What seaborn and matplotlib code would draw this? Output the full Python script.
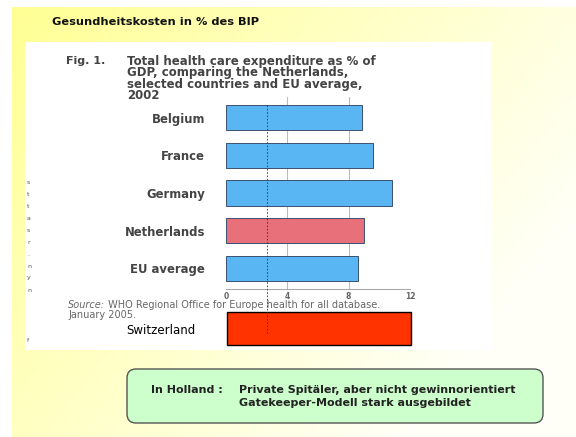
import numpy as np
import pandas as pd
import matplotlib
matplotlib.use('Agg')
import matplotlib.pyplot as plt
from matplotlib.patches import Rectangle, FancyBboxPatch
import seaborn as sns

# Data (% of GDP, 2002)
countries = ['Belgium', 'France', 'Germany', 'Netherlands', 'EU average']
spending = [8.9, 9.6, 10.8, 9.0, 8.6]
bar_colors = ['#5ab6f2', '#5ab6f2', '#5ab6f2', '#e8707b', '#5ab6f2']
x_ticks = [0, 4, 8, 12]
grid_at = [4, 8]
marker_line = 2.65

swiss_label = ['Switzerland']
swiss_value = [12.0]

slide_title = 'Gesundheitskosten in % des BIP'
fig_caption = ['Total health care expenditure as % of',
               'GDP, comparing the Netherlands,',
               'selected countries and EU average,',
               '2002']
margin_chars = ['s', 't', 't', 'a', 's', 'r', '.', 'n', 'y', 'n']

sns.set_style('white')
plt.rcParams['font.family'] = ['DejaVu Sans']

W, H = 576, 437
fig = plt.figure(figsize=(W / 100, H / 100), dpi=100)

# slide background in pixel coordinates
bg = fig.add_axes([0, 0, 1, 1])
bg.set_xlim(0, W)
bg.set_ylim(H, 0)
bg.axis('off')
gx, gy = np.meshgrid(np.linspace(0, 1, 200), np.linspace(0, 1, 160))
t = np.clip((gx * 1.0 + gy * 0.6) / 1.3, 0, 1)
top = np.array([1.0, 1.0, 0.58])
end = np.array([1.0, 1.0, 0.97])
grad = top[None, None, :] * (1 - t[..., None]) + end[None, None, :] * t[..., None]
bg.imshow(grad, extent=[12, W, H, 7], aspect='auto', zorder=0)
bg.add_patch(Rectangle((25, 42), 466, 308, facecolor='white', edgecolor='none', zorder=1))

bg.text(52, 22, slide_title, fontsize=8.2, fontweight='bold', color='#111',
        va='center', ha='left', zorder=2)
bg.text(66, 61, 'Fig. 1.', fontsize=8, fontweight='bold', color='#444',
        va='center', zorder=2)
for i, line in enumerate(fig_caption):
    bg.text(127, 61 + i * 11.6, line, fontsize=8.5, fontweight='bold', color='#444',
            va='center', zorder=2)

for i, ch in enumerate(margin_chars):
    bg.text(27, 182 + i * 12, ch, fontsize=4.5, color='#555', va='center', zorder=2)
bg.text(27, 340, 'f', fontsize=4.5, color='#555', va='center', zorder=2)

s1 = bg.text(68, 305.5, 'Source:', fontsize=7, style='italic', color='#666',
             va='center', zorder=2)
bg.annotate(' WHO Regional Office for Europe health for all database.', xy=(1, 0),
            xycoords=s1, va='bottom', fontsize=7, color='#666', zorder=2)
bg.text(68, 314.5, 'January 2005.', fontsize=7, color='#666', va='center', zorder=2)

bg.add_patch(FancyBboxPatch((127, 369), 416, 54, boxstyle='round,pad=0,rounding_size=9',
                            facecolor='#ccffcc', edgecolor='#555', linewidth=1, zorder=2))
bg.text(151, 390, 'In Holland :', fontsize=8, fontweight='bold', color='#222',
        va='center', zorder=3)
bg.text(239, 390, 'Private Spitäler, aber nicht gewinnorientiert', fontsize=8,
        fontweight='bold', color='#222', va='center', zorder=3)
bg.text(239, 403, 'Gatekeeper-Modell stark ausgebildet', fontsize=8,
        fontweight='bold', color='#222', va='center', zorder=3)

# Switzerland bar (added first so the dashed line sits on top)
ax_l, ax_r = 226, 410
sw = fig.add_axes([(ax_l + 1) / W, (H - 345) / H, (ax_r - ax_l) / W, 33 / H])
sw.patch.set_alpha(0)
sns.barplot(x=swiss_value, y=swiss_label, color='#ff3300', edgecolor='black',
            linewidth=1, width=1.0, orient='h', saturation=1, ax=sw)
for p in sw.patches:
    p.set_clip_on(False)
sw.set_xlim(0, 12)
sw.set_ylim(0.5, -0.5)
sw.set_xticks([])
sw.set_xlabel('')
sw.set_ylabel('')
sns.despine(ax=sw, left=True, bottom=True)
sw.tick_params(axis='y', length=0, pad=23, labelsize=8.5, labelcolor='black')

# main chart
ax = fig.add_axes([ax_l / W, (H - 289) / H, (ax_r - ax_l) / W, (289 - 97) / H])
ax.set_zorder(3)
ax.patch.set_alpha(0)
df = pd.DataFrame({'country': countries, 'pct': spending})
sns.barplot(data=df, x='pct', y='country', hue='country', palette=bar_colors,
            legend=False, orient='h', width=0.67, saturation=1,
            edgecolor='#3a5070', linewidth=0.7, ax=ax, zorder=2)
for g in grid_at:
    ax.axvline(g, color='#bbbbbb', linewidth=0.8, zorder=1)
ax.plot([marker_line, marker_line], [-0.33, 5.75], color='#333', linewidth=0.6,
        linestyle=(0, (2, 2)), clip_on=False, zorder=4)
ax.set_xlim(0, 12)
ax.set_ylim(4.55, -0.55)
ax.set_xticks(x_ticks)
ax.set_xlabel('')
ax.set_ylabel('')
sns.despine(ax=ax, left=True, top=True, right=True)
ax.spines['bottom'].set_color('#aaaaaa')
ax.spines['bottom'].set_linewidth(0.8)
ax.tick_params(axis='x', length=1.5, width=0.6, color='#aaaaaa', pad=0.5,
               labelsize=5.5, labelcolor='#666')
ax.tick_params(axis='y', length=0, pad=15, labelsize=8.4, labelcolor='#444')
for lab in ax.get_yticklabels():
    lab.set_fontweight('bold')
for lab in ax.get_xticklabels():
    lab.set_fontweight('bold')

fig.savefig('out.png', dpi=100)
